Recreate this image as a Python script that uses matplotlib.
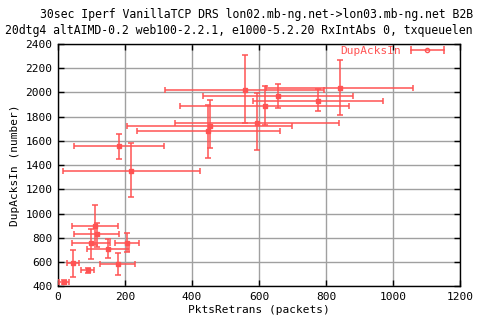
import numpy as np
import matplotlib
matplotlib.use('Agg')
import matplotlib.pyplot as plt
from matplotlib.lines import Line2D
from matplotlib.legend_handler import HandlerLine2D, HandlerTuple

# PktsRetrans vs DupAcksIn, with min/max ranges
pkts = [18, 45, 90, 179, 149, 99, 205, 111, 116, 182, 218, 448, 454, 594, 618, 558, 842, 657, 776]
pkts_lo = [3, 27, 69, 125, 87, 42, 170, 42, 48, 48, 14, 236, 205, 349, 364, 319, 622, 433, 583]
pkts_hi = [34, 63, 107, 230, 213, 155, 242, 179, 182, 316, 424, 663, 699, 839, 869, 793, 1061, 881, 971]
dup = [433, 589, 534, 583, 704, 756, 756, 899, 828, 1555, 1355, 1678, 1725, 1750, 1890, 2021, 2038, 1972, 1931]
dup_lo = [416, 474, 512, 490, 630, 622, 683, 740, 721, 1453, 1133, 1462, 1540, 1522, 1728, 1744, 1818, 1873, 1843]
dup_hi = [449, 701, 548, 672, 787, 875, 836, 1067, 923, 1659, 1585, 1899, 1935, 1993, 2054, 2311, 2265, 2071, 2029]

title1 = '30sec Iperf VanillaTCP DRS lon02.mb-ng.net->lon03.mb-ng.net B2B'
title2 = '20dtg4 altAIMD-0.2 web100-2.2.1, e1000-5.2.20 RxIntAbs 0, txqueuelen'

red = '#ff5353'
plt.rcParams['font.family'] = 'DejaVu Sans Mono'
plt.rcParams['font.size'] = 8.0

fig = plt.figure(figsize=(4.8, 3.2), dpi=100)
ax = fig.add_axes([0.1208, 0.1053, 0.8375, 0.7572])

x = np.array(pkts)
y = np.array(dup)
xerr = [x - np.array(pkts_lo), np.array(pkts_hi) - x]
yerr = [y - np.array(dup_lo), np.array(dup_hi) - y]
ax.errorbar(x, y, xerr=xerr, yerr=yerr, fmt='s', color=red, ms=3, lw=1.1,
            elinewidth=1.1, capsize=2.2, capthick=1.1, zorder=3)

ax.set_xlim(0, 1200)
ax.set_ylim(400, 2400)
ax.set_xticks(np.arange(0, 1201, 200))
ax.set_yticks(np.arange(400, 2401, 200))
ax.grid(True, color='#a0a0a0', lw=1.0)
ax.set_axisbelow(True)
ax.tick_params(direction='in', top=True, right=True, length=4, width=1, pad=4)
for s in ax.spines.values():
    s.set_linewidth(1.0)
ax.set_xlabel('PktsRetrans (packets)', labelpad=2)
ax.set_ylabel('DupAcksIn (number)', labelpad=4)

fig.text(0.535, 0.955, title1, ha='center', va='center', fontsize=8.3)
fig.text(0.497, 0.905, title2, ha='center', va='center', fontsize=8.3)

# gnuplot style key: label then horizontal errorbar sample
h_caps = Line2D([], [], color=red, lw=1.1, marker='|', ms=6, mew=1.1)
h_dot = Line2D([], [], color=red, lw=0, marker='o', ms=3, mfc='none', mew=1)
ax.legend([(h_caps, h_dot)], ['DupAcksIn'], loc='upper right', frameon=False,
          markerfirst=False, labelcolor=red, handlelength=3.6,
          borderaxespad=0.2, handletextpad=0.6, bbox_to_anchor=(0.985, 1.02),
          handler_map={h_caps: HandlerLine2D(numpoints=2),
                       h_dot: HandlerLine2D(numpoints=1),
                       tuple: HandlerTuple(ndivide=1, pad=0)})

fig.savefig('out.png', dpi=100)
